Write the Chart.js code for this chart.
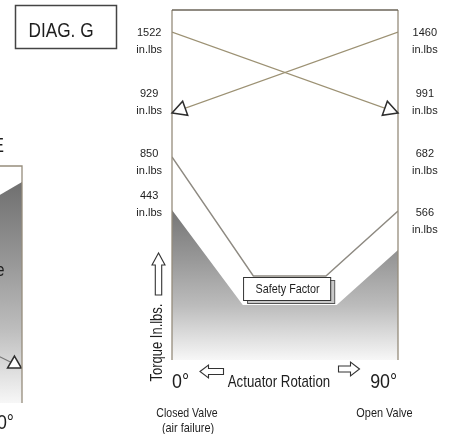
<!DOCTYPE html>
<html>
<head>
<meta charset="utf-8">
<script src="https://cdn.jsdelivr.net/npm/chart.js@4.4.1/dist/chart.umd.min.js"></script>
<style>
  html, body { margin: 0; padding: 0; background: #fff; }
  #wrap { position: relative; width: 449px; height: 434px; overflow: hidden; }
  #main { position: absolute; left: 0; top: 0; }
  #side { position: absolute; left: -218px; top: 0; }
</style>
</head>
<body>
<div id="wrap">
  <canvas id="main" width="449" height="434"></canvas>
  <canvas id="side" width="250" height="434"></canvas>
</div>
<script>
const FONT = "'Liberation Sans', Arial, sans-serif"

// diagram G: x = actuator rotation (deg), y = schematic height in the box (0 = bottom)
const springX = [0, 90]          // 1522 -> 991
const springY = [328, 247]
const airX = [90, 0]             // 1460 -> 929
const airY = [328, 247]
const safetyX = [0, 32.4, 61.3, 90]
const safetyY = [203, 84, 84, 149]
const valveX = [0, 28.2, 65.6, 90]
const valveY = [150, 55, 55, 110]

const leftTicks = [318.5, 257.5, 197.5, 155.5]
const leftLabels = ['1522', '929', '850', '443']
const rightTicks = [318.5, 257.5, 197.5, 138.5]
const rightLabels = ['1460', '991', '682', '566']
const xTicks = [3.4, 42.6, 84.3]
const xLabels = ['0°', 'Actuator Rotation', '90°']

// the cut off diagram on the left edge
const sideX = [75, 90]
const sideY = [199, 221]
const sideMarkX = [77.3, 87.0]
const sideMarkY = [51, 39]

const pts = (xs, ys) => xs.map((x, i) => ({ x: x, y: ys[i] }))

function shade(fromValue) {
  return c => {
    const chart = c.chart
    const a = chart.chartArea
    if (!a) return null
    const g = chart.ctx.createLinearGradient(0, chart.scales.y.getPixelForValue(fromValue), 0, a.bottom)
    g.addColorStop(0, '#727272')
    g.addColorStop(0.35, '#989898')
    g.addColorStop(0.65, '#bcbcbc')
    g.addColorStop(0.82, '#d9d9d9')
    g.addColorStop(1, '#f7f7f7')
    return g
  }
}

// the scan uses a narrow face, so squeeze the text a bit
function say(ctx, s, x, y, size, sx, align) {
  ctx.save()
  ctx.translate(x, y)
  ctx.scale(sx, 1)
  ctx.font = size + 'px ' + FONT
  ctx.textAlign = align || 'center'
  ctx.textBaseline = 'middle'
  ctx.fillText(s, 0, 0)
  ctx.restore()
}

function arrowHead(ctx, from, to, len, half) {
  const dx = to.x - from.x, dy = to.y - from.y, d = Math.hypot(dx, dy)
  const ux = dx / d, uy = dy / d
  const bx = to.x - ux * len, by = to.y - uy * len
  ctx.beginPath()
  ctx.moveTo(to.x, to.y)
  ctx.lineTo(bx - uy * half, by + ux * half)
  ctx.lineTo(bx + uy * half, by - ux * half)
  ctx.closePath()
  ctx.fillStyle = '#fff'
  ctx.fill()
  ctx.stroke()
}

// hollow block arrow, dir: 'up' | 'left' | 'right'
function blockArrow(ctx, tipX, tipY, dir, headLen, headHalf, shaftLen, shaftHalf) {
  let p = [[0, 0], [headLen, -headHalf], [headLen, -shaftHalf], [headLen + shaftLen, -shaftHalf],
           [headLen + shaftLen, shaftHalf], [headLen, shaftHalf], [headLen, headHalf]]
  ctx.beginPath()
  p.forEach(([a, b], i) => {
    let x, y
    if (dir === 'left') { x = tipX + a; y = tipY + b }
    else if (dir === 'right') { x = tipX - a; y = tipY + b }
    else { x = tipX + b; y = tipY + a }
    i ? ctx.lineTo(x, y) : ctx.moveTo(x, y)
  })
  ctx.closePath()
  ctx.fillStyle = '#fff'
  ctx.fill()
  ctx.stroke()
}

const frame = {
  id: 'frame',
  afterDatasetsDraw(chart) {
    const { ctx, chartArea: a } = chart
    ctx.save()
    ctx.lineWidth = 1.3
    ctx.strokeStyle = '#968d7c'
    ctx.beginPath()
    ctx.moveTo(a.left, a.bottom); ctx.lineTo(a.left, a.top)
    ctx.moveTo(a.right, a.top); ctx.lineTo(a.right, a.bottom)
    ctx.stroke()
    ctx.strokeStyle = '#6b6459'
    ctx.beginPath(); ctx.moveTo(a.left, a.top); ctx.lineTo(a.right, a.top); ctx.stroke()

    // open arrow heads at the end of the spring / air strokes
    ctx.strokeStyle = '#2e2e2e'
    ctx.lineWidth = 1.5
    chart.data.datasets.forEach((ds, i) => {
      if (!ds.arrow) return
      const el = chart.getDatasetMeta(i).data
      arrowHead(ctx, el[el.length - 2], el[el.length - 1], 14, 7.5)
    })
    ctx.restore()
  }
}

const notes = {
  id: 'notes',
  afterDraw(chart) {
    const { ctx } = chart
    const x = chart.scales.x, y = chart.scales.y
    ctx.save()
    ctx.fillStyle = '#1e1e1e'

    // DIAG. G box
    ctx.strokeStyle = '#444'
    ctx.lineWidth = 1.5
    ctx.strokeRect(15.5, 5.5, 101, 43)
    say(ctx, 'DIAG. G', 61, 31, 21, 0.82)

    // rotation labels under the box, at the x axis tick values
    x.ticks.forEach((t, i) => {
      const px = x.getPixelForValue(t.value)
      if (i === 1) say(ctx, xLabels[i], px, 382.5, 17, 0.78)
      else say(ctx, xLabels[i], px, 382, 21, 0.85)
    })

    // safety factor label box
    const bl = x.getPixelForValue(28.3), br = x.getPixelForValue(63)
    const bt = y.getPixelForValue(83), bb = y.getPixelForValue(60)
    ctx.lineWidth = 1
    ctx.strokeStyle = '#555'
    ctx.fillStyle = '#c9c9c9'
    ctx.fillRect(bl + 4, bt + 3, br - bl, bb - bt)
    ctx.strokeRect(bl + 4.5, bt + 3.5, br - bl, bb - bt)
    ctx.fillStyle = '#fff'
    ctx.fillRect(bl, bt, br - bl, bb - bt)
    ctx.strokeStyle = '#333'
    ctx.strokeRect(bl + 0.5, bt + 0.5, br - bl, bb - bt)
    ctx.fillStyle = '#1e1e1e'
    say(ctx, 'Safety Factor', (bl + br) / 2 + 1, (bt + bb) / 2 + 1, 13, 0.83)

    // valve states
    say(ctx, 'Closed Valve', 187, 413, 13, 0.81)
    say(ctx, '(air failure)', 188, 428, 13, 0.84)
    say(ctx, 'Open Valve', 384.5, 413, 13, 0.84)

    // axis caption
    ctx.save()
    ctx.translate(157.5, 342.5)
    ctx.rotate(-Math.PI / 2)
    say(ctx, 'Torque In.lbs.', 0, 0, 16, 0.81)
    ctx.restore()

    // hollow arrows
    ctx.strokeStyle = '#333'
    ctx.lineWidth = 1.1
    blockArrow(ctx, 158.5, 253, 'up', 12, 6.5, 30, 3.2)
    blockArrow(ctx, 200, 371.5, 'left', 8.5, 6.5, 15, 3)
    blockArrow(ctx, 359.5, 369, 'right', 9, 7, 12, 3)
    ctx.restore()
  }
}

const tickFont = { family: FONT, size: 11, lineHeight: 1.545 }
const noPad = s => { s.paddingTop = 0; s.paddingBottom = 0; s.paddingLeft = 0; s.paddingRight = 0 }

new Chart(document.getElementById('main'), {
  type: 'line',
  data: {
    datasets: [
      { label: 'Valve torque', data: pts(valveX, valveY), fill: 'origin', backgroundColor: shade(155),
        borderWidth: 0, pointRadius: 0, order: 3 },
      { label: 'Safety factor', data: pts(safetyX, safetyY), borderColor: '#8e8a82', borderWidth: 1.4,
        pointRadius: 0, fill: false, order: 2 },
      { label: 'Spring stroke', data: pts(springX, springY), borderColor: '#9c9173', borderWidth: 1.2,
        pointRadius: 0, fill: false, arrow: true, order: 1 },
      { label: 'Air stroke', data: pts(airX, airY), borderColor: '#9c9173', borderWidth: 1.2,
        pointRadius: 0, fill: false, arrow: true, order: 1 }
    ]
  },
  options: {
    responsive: false,
    animation: false,
    devicePixelRatio: 1,
    layout: { padding: { left: 122, right: 1, top: 10, bottom: 0 } },
    plugins: { legend: { display: false }, tooltip: { enabled: false } },
    scales: {
      x: {
        type: 'linear', min: 0, max: 90, position: 'bottom',
        grid: { display: false }, border: { display: false },
        afterBuildTicks: s => { s.ticks = xTicks.map(v => ({ value: v })) },
        afterFit: s => { s.height = 74; noPad(s) },
        ticks: { display: false }
      },
      y: {
        type: 'linear', min: 0, max: 350, position: 'left',
        grid: { display: false }, border: { display: false },
        afterBuildTicks: s => { s.ticks = leftTicks.map(v => ({ value: v })) },
        afterFit: s => { s.width = 50; noPad(s) },
        ticks: { padding: 2, crossAlign: 'center', autoSkip: false, color: '#1e1e1e', font: tickFont,
          callback: (v, i) => [leftLabels[i], 'in.lbs'] }
      },
      y2: {
        type: 'linear', display: true, min: 0, max: 350, position: 'right',
        grid: { display: false }, border: { display: false },
        afterBuildTicks: s => { s.ticks = rightTicks.map(v => ({ value: v })) },
        afterFit: s => { s.width = 50; noPad(s) },
        ticks: { padding: 6, crossAlign: 'center', autoSkip: false, color: '#1e1e1e', font: tickFont,
          callback: (v, i) => [rightLabels[i], 'in.lbs'] }
      }
    }
  },
  plugins: [frame, notes]
})

// neighbouring diagram, only its right edge is in the picture
const sideFrame = {
  id: 'sideFrame',
  afterDatasetsDraw(chart) {
    const { ctx, chartArea: a } = chart
    ctx.save()
    ctx.lineWidth = 1.3
    ctx.strokeStyle = '#968d7c'
    ctx.beginPath()
    ctx.moveTo(a.left, a.top); ctx.lineTo(a.right, a.top); ctx.lineTo(a.right, a.bottom)
    ctx.stroke()
    ctx.fillStyle = '#1e1e1e'
    say(ctx, 'E', 222, 146, 21, 0.82, 'right')
    say(ctx, 'e', 222.5, 271, 18, 0.82, 'right')
    say(ctx, '90°', 232, 423, 21, 0.85, 'right')
    ctx.restore()
  }
}

new Chart(document.getElementById('side'), {
  type: 'line',
  data: {
    datasets: [
      { data: pts(sideX, sideY), fill: 'origin', backgroundColor: shade(215), borderWidth: 0, pointRadius: 0, order: 2 },
      { data: pts(sideMarkX, sideMarkY), borderColor: '#777', borderWidth: 1.2, fill: false, order: 1,
        pointStyle: 'triangle', pointRadius: c => c.dataIndex === 1 ? 8 : 0,
        pointBackgroundColor: '#fff', pointBorderColor: '#2e2e2e', pointBorderWidth: 1.5 }
    ]
  },
  options: {
    responsive: false,
    animation: false,
    devicePixelRatio: 1,
    layout: { padding: { left: 14, right: 10, top: 166, bottom: 31 } },
    plugins: { legend: { display: false }, tooltip: { enabled: false } },
    scales: {
      x: { type: 'linear', display: false, min: 0, max: 90 },
      y: { type: 'linear', display: false, min: 0, max: 237 }
    }
  },
  plugins: [sideFrame]
})
</script>
</body>
</html>
